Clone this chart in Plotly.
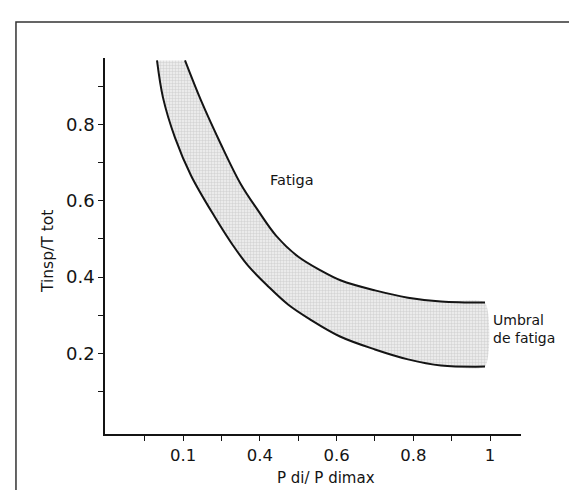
import plotly.graph_objects as go

# Upper (fatigue) boundary of the band
upper_x = [0.2047, 0.2464, 0.2986, 0.3507, 0.3950, 0.4420, 0.4993, 0.5593, 0.6115, 0.7001, 0.7862, 0.8722, 0.9870]
upper_y = [0.9685, 0.8635, 0.7480, 0.6430, 0.5750, 0.5090, 0.4540, 0.4170, 0.3910, 0.3650, 0.3460, 0.3360, 0.3330]
# Lower boundary of the band
lower_x = [0.1317, 0.1473, 0.1786, 0.2203, 0.2829, 0.3299, 0.3690, 0.4211, 0.4733, 0.5306, 0.6089, 0.7001, 0.7862, 0.8722, 0.9870]
lower_y = [0.9685, 0.8710, 0.7660, 0.6667, 0.5570, 0.4830, 0.4300, 0.3760, 0.3280, 0.2890, 0.2440, 0.2100, 0.1840, 0.1680, 0.1650]

x_tickvals = [0.1, 0.2, 0.3, 0.4, 0.5, 0.6, 0.7, 0.8, 0.9, 1.0]
x_ticktext = ["", "0.1", "", "0.4", "", "0.6", "", "0.8", "", "1"]
y_tickvals = [0.1, 0.2, 0.3, 0.4, 0.5, 0.6, 0.7, 0.8, 0.9]
y_ticktext = ["", "0.2", "", "0.4", "", "0.6", "", "0.8", ""]

FONT = "DejaVu Sans"
INK = "#141414"

fig = go.Figure()

# shaded band
fig.add_trace(go.Scatter(
    x=upper_x + lower_x[::-1],
    y=upper_y + lower_y[::-1],
    mode="lines", fill="toself",
    line=dict(width=0, shape="spline", smoothing=0.6),
    fillcolor="#e4e4e4",
    fillpattern=dict(shape="+", fgcolor="#b0b0b0", bgcolor="#ebebeb", size=3, solidity=0.3),
    hoverinfo="skip", showlegend=False,
))
fig.add_trace(go.Scatter(x=upper_x, y=upper_y, mode="lines",
                         line=dict(color=INK, width=2, shape="spline", smoothing=1.0),
                         showlegend=False))
fig.add_trace(go.Scatter(x=lower_x, y=lower_y, mode="lines",
                         line=dict(color=INK, width=2, shape="spline", smoothing=1.0),
                         showlegend=False))

fig.update_layout(
    width=577, height=490,
    margin=dict(l=97, r=64, t=50, b=64),
    paper_bgcolor="white", plot_bgcolor="white",
    font=dict(family=FONT, color=INK, size=15),
    showlegend=False,
    xaxis=dict(range=[-0.0039, 1.0808], showgrid=False, zeroline=False,
               showline=True, linecolor=INK, linewidth=1.6,
               ticks="outside", ticklen=5, tickwidth=1.4, tickcolor=INK,
               tickvals=x_tickvals, ticktext=x_ticktext,
               tickfont=dict(family=FONT, size=16.5, color=INK)),
    yaxis=dict(range=[-0.0119, 0.975], showgrid=False, zeroline=False,
               showline=True, linecolor=INK, linewidth=1.6,
               ticks="outside", ticklen=5, tickwidth=1.4, tickcolor=INK,
               tickvals=y_tickvals, ticktext=y_ticktext,
               tickfont=dict(family=FONT, size=18, color=INK)),
    annotations=[
        dict(text="P di/ P dimax", xref="paper", yref="paper",
             x=(318 - 97) / 416, y=-(470 - 426) / 376, xanchor="center", yanchor="middle",
             showarrow=False, font=dict(family=FONT, size=15, color=INK)),
        dict(text="Tinsp/T tot", xref="paper", yref="paper",
             x=-(97 - 40) / 416, y=1 - (243 - 50) / 376, xanchor="center", yanchor="middle",
             textangle=-90, showarrow=False, font=dict(family=FONT, size=15.5, color=INK)),
        dict(text="Fatiga", x=0.4837, y=0.6535, xanchor="center", yanchor="middle",
             showarrow=False, font=dict(family=FONT, size=14.5, color=INK)),
        dict(text="Umbral<br>de fatiga", x=1.0026, y=0.265, xanchor="left", yanchor="middle",
             align="left", showarrow=False, font=dict(family=FONT, size=14, color=INK)),
    ],
    shapes=[
        dict(type="rect", xref="paper", yref="paper",
             x0=-0.214, y0=-0.19, x1=1.17, y1=1.0957,
             line=dict(color="#333333", width=1.5), fillcolor="rgba(0,0,0,0)", layer="below"),
    ],
)

fig.write_html("out.html")
